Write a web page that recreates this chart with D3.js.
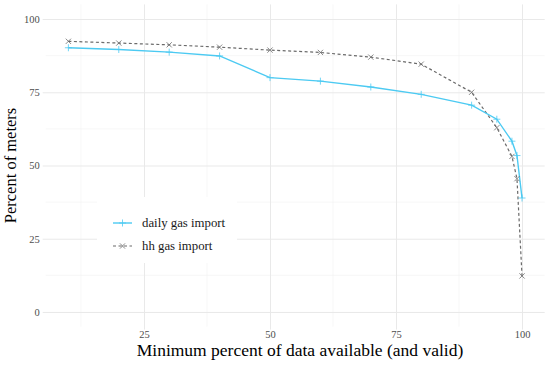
<!DOCTYPE html>
<html>
<head>
<meta charset="utf-8">
<script src="https://cdn.jsdelivr.net/npm/d3@7"></script>
<style>
  body { margin: 0; background: #fff; }
  svg { display: block; }
  svg text { font-family: 'Liberation Serif', 'DejaVu Serif', serif; }
</style>
</head>
<body>
<div id="chart"></div>
<script>
// data
const thresholds = [10, 20, 30, 40, 50, 60, 70, 80, 90, 95, 98, 99, 100]
const dailyGas = [90.2, 89.6, 88.7, 87.4, 80.0, 78.8, 76.8, 74.3, 70.6, 65.8, 58.3, 53.4, 38.9]
const hhGas = [92.4, 91.8, 91.2, 90.4, 89.4, 88.6, 87.0, 84.6, 75.0, 62.9, 53.1, 45.5, 12.3]
const xTicks = [25, 50, 75, 100]
const yTicks = [0, 25, 50, 75, 100]
const seriesNames = ['daily gas import', 'hh gas import']

const width = 550
const height = 366
const margin = { top: 4.4, left: 45.7, right: 5.3, bottom: 39.4 }
const innerW = width - margin.left - margin.right
const innerH = height - margin.top - margin.bottom

const svg = d3
  .select('#chart')
  .append('svg')
  .attr('width', width)
  .attr('height', height)

const g = svg
  .append('g')
  .attr('transform', 'translate(' + margin.left + ',' + margin.top + ')')

// ggplot style 5% expansion
const xScale = d3.scaleLinear().domain([5.5, 104.5]).range([0, innerW])
const yScale = d3.scaleLinear().domain([-5, 105]).range([innerH, 0])

// minor grid
const xMinor = [12.5, 37.5, 62.5, 87.5]
const yMinor = [12.5, 37.5, 62.5, 87.5]
g.selectAll('.xminor')
  .data(xMinor)
  .enter()
  .append('line')
  .attr('x1', d => xScale(d))
  .attr('x2', d => xScale(d))
  .attr('y1', 0)
  .attr('y2', innerH)
  .attr('stroke', '#f2f2f2')
  .attr('stroke-width', 0.6)
g.selectAll('.yminor')
  .data(yMinor)
  .enter()
  .append('line')
  .attr('y1', d => yScale(d))
  .attr('y2', d => yScale(d))
  .attr('x1', 0)
  .attr('x2', innerW)
  .attr('stroke', '#f2f2f2')
  .attr('stroke-width', 0.6)

// axes (major grid via tick size)
const xAxis = d3.axisBottom(xScale).tickValues(xTicks).tickSize(-innerH - 3).tickPadding(1)
g.append('g')
  .attr('class', 'axis x-axis')
  .attr('transform', 'translate(0,' + (innerH + 3) + ')')
  .call(xAxis)

const yAxis = d3.axisLeft(yScale).tickValues(yTicks).tickSize(-innerW - 3).tickPadding(3)
g.append('g')
  .attr('class', 'axis y-axis')
  .attr('transform', 'translate(-3,0)')
  .call(yAxis)

svg.selectAll('.axis').attr('font-family', null).attr('font-size', null)
svg.selectAll('.axis .domain').remove()
svg.selectAll('.axis line').attr('stroke', '#e9e9e9').attr('stroke-width', 1)
svg.selectAll('.x-axis text').attr('y', 1).attr('dy', '0.71em')
svg.selectAll('.axis text')
  .attr('fill', '#4d4d4d')
  .style('font-size', '10.5px')

// lines
const blue = '#4ccaf2'
const grey = '#6b6b6b'

const daily = thresholds.map((t, i) => ({ x: t, y: dailyGas[i] }))
const hh = thresholds.map((t, i) => ({ x: t, y: hhGas[i] }))

const line = d3.line().x(d => xScale(d.x)).y(d => yScale(d.y))

g.append('path')
  .datum(hh)
  .attr('d', line)
  .attr('fill', 'none')
  .attr('stroke', grey)
  .attr('stroke-width', 1.2)
  .attr('stroke-dasharray', '3,2.5')

g.append('path')
  .datum(daily)
  .attr('d', line)
  .attr('fill', 'none')
  .attr('stroke', blue)
  .attr('stroke-width', 1.4)

// point shapes
const s = 3.5
g.selectAll('.plus')
  .data(daily)
  .enter()
  .append('path')
  .attr('d', d => {
    const x = xScale(d.x)
    const y = yScale(d.y)
    return 'M' + (x - s) + ',' + y + 'H' + (x + s) + 'M' + x + ',' + (y - s) + 'V' + (y + s)
  })
  .attr('stroke', blue)
  .attr('stroke-width', 0.8)

g.selectAll('.cross')
  .data(hh)
  .enter()
  .append('path')
  .attr('d', d => {
    const x = xScale(d.x)
    const y = yScale(d.y)
    const k = s * 0.75
    return 'M' + (x - k) + ',' + (y - k) + 'L' + (x + k) + ',' + (y + k) +
      'M' + (x - k) + ',' + (y + k) + 'L' + (x + k) + ',' + (y - k)
  })
  .attr('stroke', grey)
  .attr('stroke-width', 0.8)

// legend
const legend = svg.append('g').attr('transform', 'translate(97,197)')
legend.append('rect')
  .attr('width', 140)
  .attr('height', 66)
  .attr('fill', '#fff')

const keys = legend.selectAll('.key')
  .data(seriesNames)
  .enter()
  .append('g')
  .attr('transform', (d, i) => 'translate(0,' + (26 + i * 23) + ')')

keys.append('line')
  .attr('x1', 16)
  .attr('x2', 35)
  .attr('stroke', (d, i) => i === 0 ? blue : grey)
  .attr('stroke-width', (d, i) => i === 0 ? 1.4 : 1.2)
  .attr('stroke-dasharray', (d, i) => i === 0 ? null : '3,2.5')

keys.append('path')
  .attr('d', (d, i) => i === 0
    ? 'M22,0H29M25.5,-3.5V3.5'
    : 'M23,-2.6L28,2.6M23,2.6L28,-2.6')
  .attr('stroke', (d, i) => i === 0 ? blue : grey)
  .attr('stroke-width', 0.8)

keys.append('text')
  .attr('x', 45)
  .attr('dy', '0.35em')
  .style('font-size', '12.8px')
  .attr('fill', '#1a1a1a')
  .text(d => d)

// axis titles
svg.append('text')
  .attr('x', 300)
  .attr('y', 355.5)
  .attr('text-anchor', 'middle')
  .style('font-size', '17.5px')
  .text('Minimum percent of data available (and valid)')

svg.append('text')
  .attr('transform', 'translate(15.5,' + (margin.top + innerH / 2) + ') rotate(-90)')
  .attr('text-anchor', 'middle')
  .style('font-size', '16.5px')
  .text('Percent of meters')
</script>
</body>
</html>
